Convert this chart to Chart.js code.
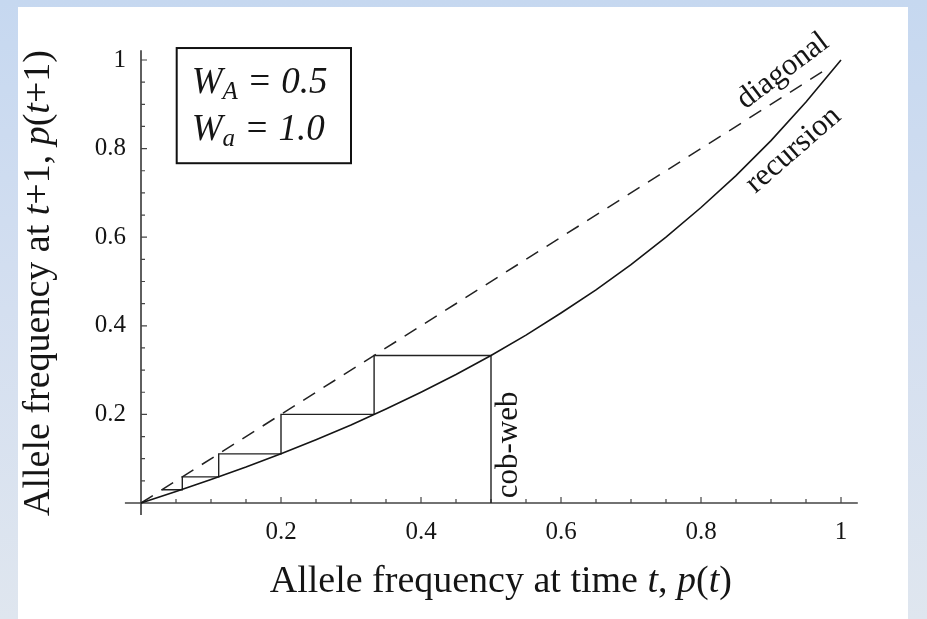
<!DOCTYPE html>
<html>
<head>
<meta charset="utf-8">
<script src="https://cdn.jsdelivr.net/npm/chart.js@4"></script>
<style>
  html, body { margin: 0; padding: 0; }
  body {
    width: 927px; height: 619px; overflow: hidden;
    background: linear-gradient(to bottom, #c6d8f0 0%, #d4dff0 50%, #dfe6ef 100%);
  }
  #panel {
    position: absolute; left: 18px; top: 7px; width: 890px; height: 612px;
    background: #fff;
  }
  #wrap { position: absolute; left: 0; top: 0; width: 927px; height: 619px; }
</style>
</head>
<body>
<div id="panel"></div>
<div id="wrap"><canvas id="chart"></canvas></div>
<script>
// recursion p(t+1) against p(t)
const recX = [0, 0.05, 0.1, 0.15, 0.2, 0.25, 0.3, 0.35, 0.4, 0.45, 0.5, 0.55, 0.6, 0.65, 0.7, 0.75, 0.8, 0.85, 0.9, 0.95, 1];
const recY = [0, 0.026, 0.053, 0.081, 0.111, 0.143, 0.176, 0.212, 0.25, 0.29, 0.333, 0.379, 0.429, 0.481, 0.538, 0.6, 0.667, 0.739, 0.818, 0.905, 1];

// dashed diagonal
const diagX = [0, 0.979];
const diagY = [0, 0.979];

// cob-web steps starting from p = 0.5
const cobX = [0.5, 0.5, 0.333, 0.333, 0.2, 0.2, 0.111, 0.111, 0.059, 0.059, 0.03];
const cobY = [0, 0.333, 0.333, 0.2, 0.2, 0.111, 0.111, 0.059, 0.059, 0.03, 0.03];

const xTickValues = [0.2, 0.4, 0.6, 0.8, 1];
const xTickLabels = ['0.2', '0.4', '0.6', '0.8', '1'];
const yTickValues = [0.2, 0.4, 0.6, 0.8, 1];
const yTickLabels = ['0.2', '0.4', '0.6', '0.8', '1'];

const SERIF = '"Liberation Serif", "DejaVu Serif", serif';
const INK = '#151515';

function pts(xs, ys) {
  return xs.map((x, i) => ({ x: x, y: ys[i] }));
}

// draw a list of text pieces (some italic / subscript) in one go
function drawRuns(ctx, runs, x, y, align) {
  let total = 0;
  runs.forEach(r => {
    ctx.font = r.font;
    r.w = ctx.measureText(r.t).width;
    total += r.w;
  });
  let cx = align === 'center' ? x - total / 2 : x;
  runs.forEach(r => {
    ctx.font = r.font;
    ctx.fillText(r.t, cx, y + (r.dy || 0));
    cx += r.w;
  });
}

const axesPlugin = {
  id: 'mathAxes',
  beforeDatasetsDraw(chart) {
    const ctx = chart.ctx;
    const xs = chart.scales.x, ys = chart.scales.y;
    const x0 = xs.getPixelForValue(0), y0 = ys.getPixelForValue(0);
    ctx.save();
    ctx.strokeStyle = '#444';
    ctx.lineWidth = 1.7;
    ctx.beginPath();
    ctx.moveTo(xs.getPixelForValue(-0.023), y0);
    ctx.lineTo(xs.getPixelForValue(1.024), y0);
    ctx.moveTo(x0, ys.getPixelForValue(-0.027));
    ctx.lineTo(x0, ys.getPixelForValue(1.022));
    ctx.stroke();

    // ticks, pointing into the plot
    ctx.lineWidth = 1.2;
    ctx.beginPath();
    for (let i = 1; i <= 20; i++) {
      const v = i * 0.05;
      const major = i % 4 === 0;
      const len = major ? 6 : 4;
      const px = xs.getPixelForValue(v);
      ctx.moveTo(px, y0);
      ctx.lineTo(px, y0 - len);
      const py = ys.getPixelForValue(v);
      ctx.moveTo(x0, py);
      ctx.lineTo(x0 + len, py);
    }
    ctx.stroke();
    ctx.restore();
  },
  afterDraw(chart) {
    const ctx = chart.ctx;
    const xs = chart.scales.x, ys = chart.scales.y;
    const x0 = xs.getPixelForValue(0), y0 = ys.getPixelForValue(0);
    ctx.save();
    ctx.fillStyle = INK;

    // tick labels
    ctx.font = '25px ' + SERIF;
    ctx.textBaseline = 'middle';
    ctx.textAlign = 'center';
    xTickValues.forEach((v, i) => {
      ctx.fillText(xTickLabels[i], xs.getPixelForValue(v), y0 + 29);
    });
    ctx.textAlign = 'right';
    yTickValues.forEach((v, i) => {
      ctx.fillText(yTickLabels[i], x0 - 15, ys.getPixelForValue(v));
    });

    // axis titles
    const reg = '38px ' + SERIF, it = 'italic 38px ' + SERIF;
    ctx.textAlign = 'left';
    drawRuns(ctx, [
      { t: 'Allele frequency at time ', font: reg },
      { t: 't', font: it },
      { t: ', ', font: reg },
      { t: 'p', font: it },
      { t: '(', font: reg },
      { t: 't', font: it },
      { t: ')', font: reg }
    ], xs.getPixelForValue(0.514), 582, 'center');

    ctx.save();
    ctx.translate(39, 283);
    ctx.rotate(-Math.PI / 2);
    drawRuns(ctx, [
      { t: 'Allele frequency at ', font: reg },
      { t: 't', font: it },
      { t: '+1, ', font: reg },
      { t: 'p', font: it },
      { t: '(', font: reg },
      { t: 't', font: it },
      { t: '+1)', font: reg }
    ], 0, 0, 'center');
    ctx.restore();

    // parameter box
    const bx1 = xs.getPixelForValue(0.051), by1 = ys.getPixelForValue(1.027);
    const bx2 = xs.getPixelForValue(0.3), by2 = ys.getPixelForValue(0.767);
    ctx.strokeStyle = '#111';
    ctx.lineWidth = 2;
    ctx.strokeRect(bx1, by1, bx2 - bx1, by2 - by1);
    const bi = 'italic 37px ' + SERIF, bs = 'italic 25px ' + SERIF;
    drawRuns(ctx, [
      { t: 'W', font: bi },
      { t: 'A', font: bs, dy: 9 },
      { t: ' = 0.5', font: bi }
    ], bx1 + 15, by1 + 35, 'left');
    drawRuns(ctx, [
      { t: 'W', font: bi },
      { t: 'a', font: bs, dy: 9 },
      { t: ' = 1.0', font: bi }
    ], bx1 + 15, by1 + 82, 'left');

    // curve labels
    ctx.font = '31px ' + SERIF;
    ctx.textAlign = 'center';
    const lab = (t, x, y, deg) => {
      ctx.save();
      ctx.translate(xs.getPixelForValue(x), ys.getPixelForValue(y));
      ctx.rotate(deg * Math.PI / 180);
      ctx.fillText(t, 0, 0);
      ctx.restore();
    };
    lab('diagonal', 0.917, 0.975, -37);
    lab('recursion', 0.932, 0.797, -41);
    lab('cob-web', 0.525, 0.131, -90);
    ctx.restore();
  }
};

const ctx = document.getElementById('chart').getContext('2d');
new Chart(ctx, {
  type: 'scatter',
  data: {
    datasets: [
      {
        label: 'recursion',
        data: pts(recX, recY),
        showLine: true,
        borderColor: '#151515',
        borderWidth: 1.6,
        pointRadius: 0
      },
      {
        label: 'diagonal',
        data: pts(diagX, diagY),
        showLine: true,
        borderColor: '#222',
        borderWidth: 1.5,
        borderDash: [14, 10],
        pointRadius: 0
      },
      {
        label: 'cob-web',
        data: pts(cobX, cobY),
        showLine: true,
        borderColor: '#222',
        borderWidth: 1.4,
        pointRadius: 0
      }
    ]
  },
  options: {
    responsive: true,
    maintainAspectRatio: false,
    animation: false,
    layout: { padding: { left: 106, right: 51, top: 37.85, bottom: 93.85 } },
    scales: {
      x: { type: 'linear', min: -0.05, max: 1.05, display: false },
      y: { type: 'linear', min: -0.05, max: 1.05, display: false }
    },
    plugins: {
      legend: { display: false },
      tooltip: { enabled: false }
    }
  },
  plugins: [axesPlugin]
});
</script>
</body>
</html>
